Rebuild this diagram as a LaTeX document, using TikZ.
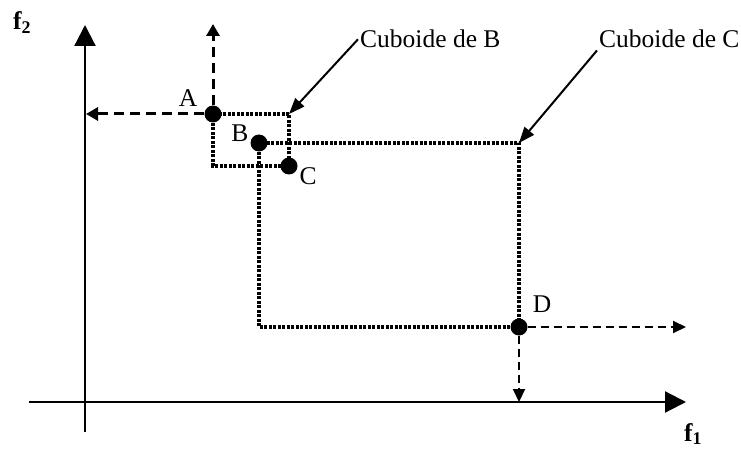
\documentclass[tikz,border=0pt]{standalone}
\usepackage{fontspec}
\setmainfont{Liberation Serif}
\usetikzlibrary{arrows.meta,positioning}

\begin{document}
\begin{tikzpicture}[x=1pt,y=-1pt,font=\fontsize{25.5}{30}\selectfont,
  pt/.style={circle,fill,inner sep=0pt,minimum size=17pt},
  axis/.style={line width=2.2pt,-{Triangle[length=21pt,width=21pt]}},
  projA/.style={line width=3pt,dash pattern=on 10pt off 6pt,-{Triangle[length=12pt,width=13pt]}},
  projD/.style={line width=2pt,dash pattern=on 8pt off 5pt,-{Triangle[length=13pt,width=12pt]}},
  cube/.style={line width=3.2pt,dash pattern=on 3pt off 1.5pt},
  ptr/.style={line width=2pt,-{Triangle[length=16pt,width=12pt]}},
  lbl/.style={inner sep=2pt}]
\useasboundingbox (0,0) rectangle (741,449);
% axes
\coordinate (xs) at (29,402); \coordinate (xe) at (686,402);
\coordinate (ys) at (85,432); \coordinate (ye) at (85,25);
\draw[axis] (xs) -- (xe);
\draw[axis] (ys) -- (ye);
\node[lbl,anchor=base west] (f1) at (682,441) {\textbf{f\textsubscript{1}}};
\node[lbl,anchor=base west] (f2) at (11,30) {\textbf{f\textsubscript{2}}};
% points
\node[pt] (pA) at (213,114) {};
\node[pt] (pB) at (259,143) {};
\node[pt] (pC) at (289,166) {};
\node[pt] (pD) at (519,327) {};
\node (lA) at (188,98) {A};
\node (lB) at (240,133) {B};
\node (lC) at (308,176) {C};
\node (lD) at (542,304) {D};
% cuboids
\draw[cube] (pA.center) rectangle (pC.center);
\draw[cube] (pB.center) rectangle (pD.center);
% projections
\coordinate (Aup) at (213,24); \coordinate (Aleft) at (86,114);
\coordinate (Dright) at (686,327); \coordinate (Ddown) at (519,402);
\draw[projA] (pA) -- (Aup);
\draw[projA] (pA) -- (Aleft);
\draw[projD] (pD) -- (Dright);
\draw[projD] (pD) -- (Ddown);
% cuboid labels
\node[lbl,anchor=base west] (cubB) at (358,48) {Cuboide de B};
\node[lbl,anchor=base west] (cubC) at (597,48) {Cuboide de C};
\draw[ptr] (cubB.west) -- (pA -| pC);
\draw[ptr] (cubC.south west) -- (pB -| pD);
\end{tikzpicture}
\end{document}
